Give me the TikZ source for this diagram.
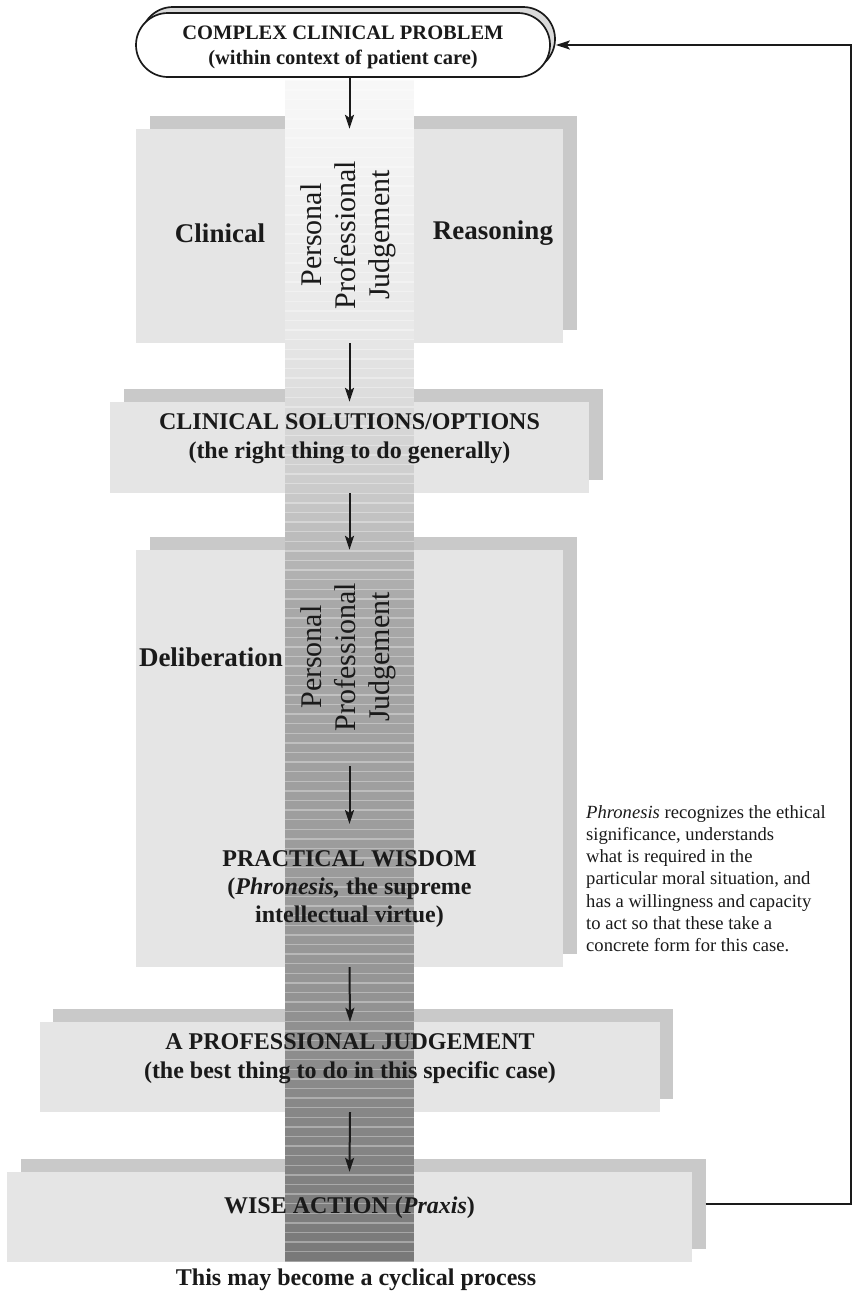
\documentclass[tikz,border=0pt]{standalone}
\usepackage{fontspec}
\setmainfont{Liberation Serif}
\usetikzlibrary{shapes.misc,arrows.meta}
\definecolor{boxfront}{HTML}{E5E5E5}
\definecolor{boxback}{HTML}{C9C9C9}
\definecolor{pillshade}{HTML}{DADADA}
\definecolor{ink}{HTML}{1A1A1A}
\begin{document}
\begin{tikzpicture}[x=1pt,y=-1pt,
  front/.style={rectangle, fill=boxfront, draw=none, inner sep=0pt},
  back/.style={rectangle, fill=boxback, draw=none, inner sep=0pt},
  szclin/.style={minimum width=427pt, minimum height=214pt},
  szsol/.style={minimum width=479pt, minimum height=91pt},
  szdel/.style={minimum width=427pt, minimum height=417pt},
  szjud/.style={minimum width=620pt, minimum height=90pt},
  szwise/.style={minimum width=685pt, minimum height=90pt},
  pillbox/.style={rounded rectangle, draw=ink, line width=1.7pt,
    minimum width=414pt, minimum height=64pt, inner sep=0pt},
  title/.style={text=ink, align=center, inner sep=0pt,
    font=\bfseries\fontsize{24}{29}\selectfont},
  sidelabel/.style={text=ink, inner sep=0pt,
    font=\bfseries\fontsize{27}{32}\selectfont},
  vlabel/.style={text=ink, align=center, inner sep=0pt, rotate=90,
    font=\fontsize{30}{34}\selectfont},
  arr/.style={-{Stealth[length=14pt,width=9pt,inset=3pt]},
    line width=2pt, draw=ink},
  loopline/.style={line width=1.8pt, draw=ink,
    -{Stealth[length=14pt,width=9pt,inset=3pt]}}
]
\useasboundingbox (0,0) rectangle (853,1294);
\fill[white] (0,0) rectangle (853,1294);

% offset shadow panels behind each stage
\node[back, szclin] (clinB) at (363,223) {};
\node[back, szsol]  (solB)  at (363,434.5) {};
\node[back, szdel]  (delB)  at (363,745.5) {};
\node[back, szjud]  (judB)  at (363,1054) {};
\node[back, szwise] (wiseB) at (363,1204) {};

% stage panels
\node[front, szclin] (clin) at (349.5,236) {};
\node[front, szsol]  (sol)  at (349.5,447.5) {};
\node[front, szdel]  (del)  at (349.5,758.5) {};
\node[front, szjud]  (jud)  at (350,1067) {};
\node[front, szwise] (wise) at (349.5,1217) {};

% central striped column, darkening downwards
\begin{scope}
  \clip (285,80) rectangle (414,1262);
  \foreach \i in {0,...,124}{
    \pgfmathsetmacro{\yb}{1262-\i*9.6}
    \pgfmathsetmacro{\ya}{\yb-9.6}
    \pgfmathsetmacro{\pp}{\ya<330 ? 3+6*(\ya-80)/250 :
      (\ya<480 ? 9+11*(\ya-330)/150 :
      (\ya<600 ? 20+14*(\ya-480)/120 :
      (\ya<960 ? 34+7*(\ya-600)/360 : 41+12*(\ya-960)/302)))}
    \fill[black!\pp] (285,\ya) rectangle (414,\yb);
    \fill[white, opacity=0.32] (285,\yb-1.4) rectangle (414,\yb);
  }
\end{scope}

% starting problem
\node[pillbox, fill=pillshade] (pillB) at (348,39) {};
\node[pillbox, fill=white] (pill) at (343,45) {};
\node[text=ink, align=center, inner sep=0pt,
  font=\bfseries\fontsize{20.5}{25}\selectfont] (pillT) at (343,47.5)
  {COMPLEX CLINICAL PROBLEM\\(within context of patient care)};

% clinical reasoning
\node[sidelabel] (clinL) at (220,233) {Clinical};
\node[sidelabel] (clinR) at (493,233) {Reasoning};
\node[vlabel] (ppj1) at (348,235) {Personal\\Professional\\Judgement};

% options
\node[title] (solT) at (349.5,438.5)
  {CLINICAL SOLUTIONS/OPTIONS\\(the right thing to do generally)};

% deliberation
\node[sidelabel] (delL) at (211,657) {Deliberation};
\node[vlabel] (ppj2) at (348.5,657) {Personal\\Professional\\Judgement};
\node[title, font=\bfseries\fontsize{24}{28}\selectfont] (pw) at (349.5,889)
  {PRACTICAL WISDOM\\(\textit{Phronesis,} the supreme\\intellectual virtue)};

% judgement and action
\node[title] (judT) at (350,1059)
  {A PROFESSIONAL JUDGEMENT\\(the best thing to do in this specific case)};
\node[title] (wiseT) at (349.5,1208) {WISE ACTION (\textit{Praxis})};
\node[title] (cyc) at (356,1280) {This may become a cyclical process};

% side note
\node[text=ink, align=left, anchor=west, inner sep=0pt,
  font=\fontsize{18.6}{22.2}\selectfont] (note) at (586,878.5)
  {\textit{Phronesis} recognizes the ethical\\
   significance, understands\\
   what is required in the\\
   particular moral situation, and\\
   has a willingness and capacity\\
   to act so that these take a\\
   concrete form for this case.};

% flow arrows
\coordinate (inA) at (349.5,766);
\coordinate (inB) at (349.5,824);
\draw[arr] (clin.north |- pill.south) -- (clin.north);
\draw[arr] (clin.south) -- (sol.north);
\draw[arr] (sol.south) -- (del.north);
\draw[arr] (inA) -- (inB);
\draw[arr] (del.south) -- (jud.north);
\draw[arr] (jud.south) -- (wise.north);

% feedback loop back to the problem
\coordinate (loopT) at (851,45);
\draw[loopline] (wiseB.east) -- (wiseB.east -| loopT) -- (loopT)
  -- (pillB.east |- loopT);
\end{tikzpicture}
\end{document}
